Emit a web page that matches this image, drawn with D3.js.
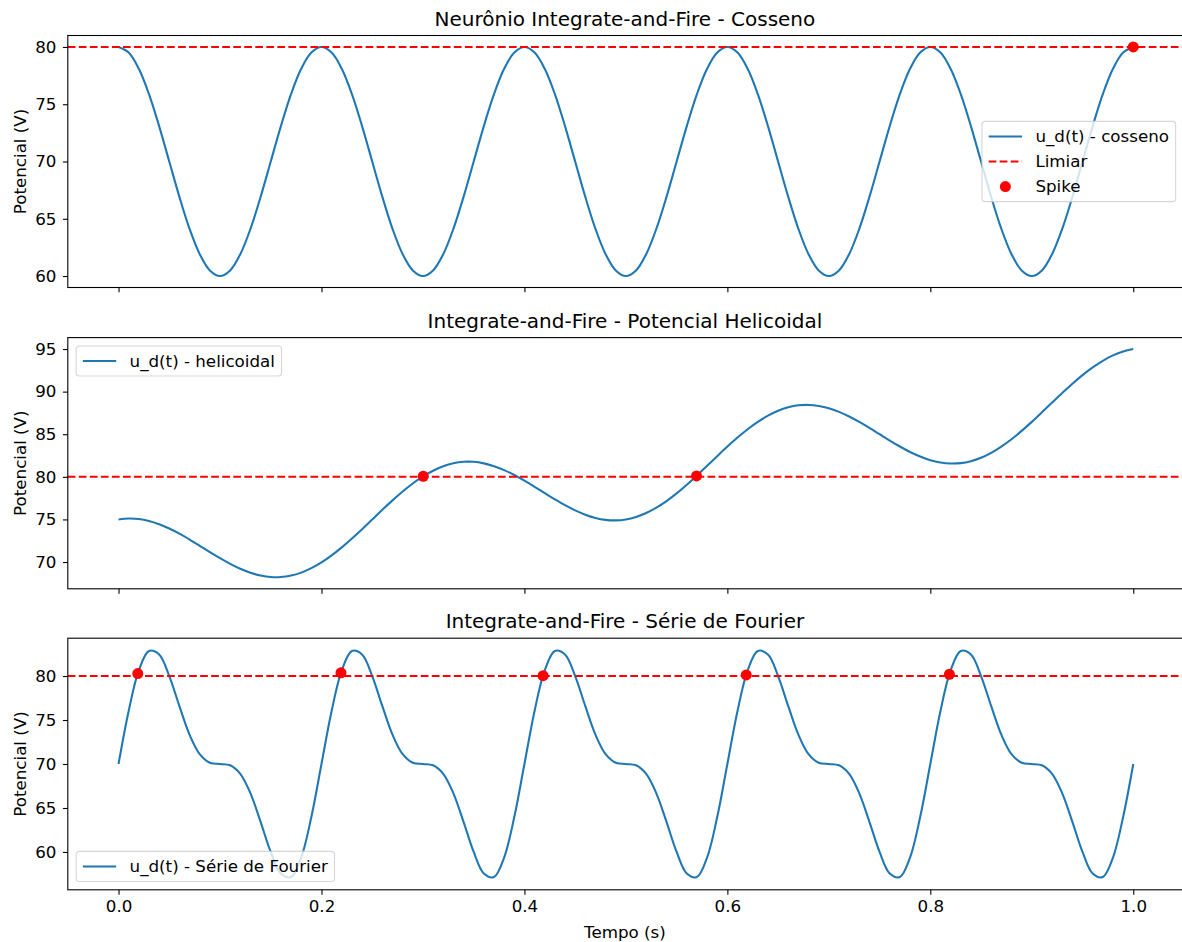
<!DOCTYPE html>
<html>
<head>
<meta charset="utf-8">
<script src="https://cdn.jsdelivr.net/npm/d3@7"></script>
<style>
  body { margin: 0; background: #fff; }
  svg { display: block; font-family: "DejaVu Sans", sans-serif; }
</style>
</head>
<body>
<div id="chart"></div>
<script>
// tempo (s), one sample every 0.01 s
const tempo = [
  0, 0.01, 0.02, 0.03, 0.04, 0.05, 0.06, 0.07, 0.08, 0.09,
  0.1, 0.11, 0.12, 0.13, 0.14, 0.15, 0.16, 0.17, 0.18, 0.19,
  0.2, 0.21, 0.22, 0.23, 0.24, 0.25, 0.26, 0.27, 0.28, 0.29,
  0.3, 0.31, 0.32, 0.33, 0.34, 0.35, 0.36, 0.37, 0.38, 0.39,
  0.4, 0.41, 0.42, 0.43, 0.44, 0.45, 0.46, 0.47, 0.48, 0.49,
  0.5, 0.51, 0.52, 0.53, 0.54, 0.55, 0.56, 0.57, 0.58, 0.59,
  0.6, 0.61, 0.62, 0.63, 0.64, 0.65, 0.66, 0.67, 0.68, 0.69,
  0.7, 0.71, 0.72, 0.73, 0.74, 0.75, 0.76, 0.77, 0.78, 0.79,
  0.8, 0.81, 0.82, 0.83, 0.84, 0.85, 0.86, 0.87, 0.88, 0.89,
  0.9, 0.91, 0.92, 0.93, 0.94, 0.95, 0.96, 0.97, 0.98, 0.99,
  1
];

// potencial - cosseno
const uCosseno = [
  80, 79.51, 78.09, 75.88, 73.09, 70, 66.91, 64.12, 61.91, 60.49,
  60, 60.49, 61.91, 64.12, 66.91, 70, 73.09, 75.88, 78.09, 79.51,
  80, 79.51, 78.09, 75.88, 73.09, 70, 66.91, 64.12, 61.91, 60.49,
  60, 60.49, 61.91, 64.12, 66.91, 70, 73.09, 75.88, 78.09, 79.51,
  80, 79.51, 78.09, 75.88, 73.09, 70, 66.91, 64.12, 61.91, 60.49,
  60, 60.49, 61.91, 64.12, 66.91, 70, 73.09, 75.88, 78.09, 79.51,
  80, 79.51, 78.09, 75.88, 73.09, 70, 66.91, 64.12, 61.91, 60.49,
  60, 60.49, 61.91, 64.12, 66.91, 70, 73.09, 75.88, 78.09, 79.51,
  80, 79.51, 78.09, 75.88, 73.09, 70, 66.91, 64.12, 61.91, 60.49,
  60, 60.49, 61.91, 64.12, 66.91, 70, 73.09, 75.88, 78.09, 79.51,
  80
];

// potencial - helicoidal
const uHelicoidal = [
  75, 75.11, 75.05, 74.82, 74.44, 73.94, 73.33, 72.64, 71.91, 71.17,
  70.45, 69.79, 69.21, 68.75, 68.42, 68.24, 68.24, 68.41, 68.76, 69.28,
  69.95, 70.78, 71.72, 72.76, 73.86, 75, 76.14, 77.24, 78.28, 79.22,
  80.05, 80.72, 81.24, 81.59, 81.76, 81.76, 81.58, 81.25, 80.79, 80.21,
  79.55, 78.83, 78.09, 77.36, 76.67, 76.06, 75.56, 75.18, 74.95, 74.89,
  75, 75.29, 75.75, 76.38, 77.16, 78.06, 79.07, 80.16, 81.29, 82.43,
  83.55, 84.61, 85.59, 86.45, 87.18, 87.76, 88.16, 88.39, 88.44, 88.32,
  88.05, 87.62, 87.08, 86.44, 85.74, 85, 84.26, 83.56, 82.92, 82.38,
  81.95, 81.68, 81.56, 81.61, 81.84, 82.24, 82.82, 83.55, 84.41, 85.39,
  86.45, 87.57, 88.71, 89.84, 90.93, 91.94, 92.84, 93.62, 94.25, 94.71,
  95
];

// potencial - serie de Fourier
const uFourier = [
  70, 76.03, 80.64, 82.85, 82.45, 80, 76.57, 73.33, 71.12, 70.15,
  70, 69.85, 68.88, 66.67, 63.43, 60, 57.55, 57.15, 59.36, 63.97,
  70, 76.03, 80.64, 82.85, 82.45, 80, 76.57, 73.33, 71.12, 70.15,
  70, 69.85, 68.88, 66.67, 63.43, 60, 57.55, 57.15, 59.36, 63.97,
  70, 76.03, 80.64, 82.85, 82.45, 80, 76.57, 73.33, 71.12, 70.15,
  70, 69.85, 68.88, 66.67, 63.43, 60, 57.55, 57.15, 59.36, 63.97,
  70, 76.03, 80.64, 82.85, 82.45, 80, 76.57, 73.33, 71.12, 70.15,
  70, 69.85, 68.88, 66.67, 63.43, 60, 57.55, 57.15, 59.36, 63.97,
  70, 76.03, 80.64, 82.85, 82.45, 80, 76.57, 73.33, 71.12, 70.15,
  70, 69.85, 68.88, 66.67, 63.43, 60, 57.55, 57.15, 59.36, 63.97,
  70
];

// spikes (tempo, potencial)
const spikeCosT = [1.0];
const spikeCosU = [80];
const spikeHelT = [0.3003, 0.5696];
const spikeHelU = [80.07, 80.11];
const spikeFouT = [0.019, 0.2192, 0.4184, 0.6186, 0.8188];
const spikeFouU = [80.28, 80.36, 80.04, 80.12, 80.2];

const limiar = 80;

const titulos = [
  "Neurônio Integrate-and-Fire - Cosseno",
  "Integrate-and-Fire - Potencial Helicoidal",
  "Integrate-and-Fire - Série de Fourier"
];
const rotulos = ["u_d(t) - cosseno", "u_d(t) - helicoidal", "u_d(t) - Série de Fourier"];

const xTicks = [0.0, 0.2, 0.4, 0.6, 0.8, 1.0];
const yTicksCos = [60, 65, 70, 75, 80];
const yTicksHel = [70, 75, 80, 85, 90, 95];
const yTicksFou = [60, 65, 70, 75, 80];

/////////////////////////////////////////////////////
const width = 1182, height = 942;
const plotLeft = 67.8, plotRight = 1184;
const blue = "#1f77b4", red = "#ff0000";
const fs = 16.7;      // text size
const titleFs = 20;
const lw = 2.08;

const panels = [
  {title: titulos[0], values: uCosseno, label: rotulos[0], sT: spikeCosT, sU: spikeCosU,
   yDomain: [59, 81], yTicks: yTicksCos, top: 35.5, bottom: 287.5, legend: "center right", full: true},
  {title: titulos[1], values: uHelicoidal, label: rotulos[1], sT: spikeHelT, sU: spikeHelU,
   yDomain: [66.86, 96.34], yTicks: yTicksHel, top: 337.6, bottom: 588.8, legend: "upper left", full: false},
  {title: titulos[2], values: uFourier, label: rotulos[2], sT: spikeFouT, sU: spikeFouU,
   yDomain: [55.7, 84.3], yTicks: yTicksFou, top: 638.2, bottom: 889.8, legend: "lower left", full: false}
];

const svg = d3.select("#chart")
  .append("svg")
    .attr("width", width)
    .attr("height", height);

const x = d3.scaleLinear()
  .domain([-0.05, 1.05])
  .range([plotLeft, plotRight]);

panels.forEach(function (p, idx) {
  const g = svg.append("g");
  const y = d3.scaleLinear().domain(p.yDomain).range([p.bottom, p.top]);

  // curve
  const line = d3.line()
    .x((d, i) => x(tempo[i]))
    .y(d => y(d))
    .curve(d3.curveCatmullRom);
  g.append("path")
    .datum(p.values)
    .attr("d", line)
    .attr("fill", "none")
    .attr("stroke", blue)
    .attr("stroke-width", lw);

  // threshold
  g.append("line")
    .attr("x1", plotLeft).attr("x2", plotRight)
    .attr("y1", y(limiar)).attr("y2", y(limiar))
    .attr("stroke", red)
    .attr("stroke-width", lw)
    .attr("stroke-dasharray", "7.7,3.33");

  // spikes
  g.selectAll("circle.spike")
    .data(p.sT)
    .enter()
    .append("circle")
      .attr("class", "spike")
      .attr("cx", d => x(d))
      .attr("cy", (d, i) => y(p.sU[i]))
      .attr("r", 5.5)
      .attr("fill", red);

  // y axis
  const yAxis = g.append("g")
    .attr("transform", `translate(${plotLeft},0)`)
    .call(d3.axisLeft(y).tickValues(p.yTicks).tickSize(4.86).tickPadding(6.5));
  yAxis.select(".domain").remove();
  yAxis.selectAll("line").attr("stroke-width", 1.1);
  yAxis.selectAll("text").attr("font-size", fs).attr("font-family", "DejaVu Sans").attr("fill", "#000");

  // x axis
  const last = idx === panels.length - 1;
  const xAxis = g.append("g")
    .attr("transform", `translate(0,${p.bottom})`)
    .call(d3.axisBottom(x).tickValues(xTicks).tickSize(4.86).tickPadding(5)
      .tickFormat(last ? d3.format(".1f") : () => ""));
  xAxis.select(".domain").remove();
  xAxis.selectAll("line").attr("stroke-width", 1.1);
  xAxis.selectAll("text").attr("font-size", fs).attr("font-family", "DejaVu Sans").attr("fill", "#000");

  // frame
  g.append("rect")
    .attr("x", plotLeft).attr("y", p.top)
    .attr("width", plotRight - plotLeft).attr("height", p.bottom - p.top)
    .attr("fill", "none")
    .attr("stroke", "#000")
    .attr("stroke-width", 1.1);

  // title
  g.append("text")
    .attr("x", (plotLeft + plotRight) / 2 - 1)
    .attr("y", p.top - 9.8)
    .attr("text-anchor", "middle")
    .attr("font-size", titleFs)
    .text(p.title);

  // y label
  g.append("text")
    .attr("transform", `translate(25.5,${(p.top + p.bottom) / 2}) rotate(-90)`)
    .attr("text-anchor", "middle")
    .attr("font-size", fs)
    .text("Potencial (V)");

  // legend
  const entries = [{type: "line", label: p.label}];
  if (p.full) {
    entries.push({type: "dash", label: "Limiar"});
    entries.push({type: "dot", label: "Spike"});
  }
  legend(g, entries, p);
});

// x label
svg.append("text")
  .attr("x", (plotLeft + plotRight) / 2 - 1)
  .attr("y", 937.5)
  .attr("text-anchor", "middle")
  .attr("font-size", fs)
  .text("Tempo (s)");

// legend box like matplotlib
function legend(g, entries, p) {
  const pad = 0.4 * fs, handle = 2 * fs, textPad = 0.8 * fs, rowGap = 0.5 * fs, axPad = 0.5 * fs;
  const lg = g.append("g");
  const box = lg.append("rect");
  const texts = lg.selectAll("text.lab")
    .data(entries)
    .enter()
    .append("text")
      .attr("class", "lab")
      .attr("font-size", fs)
      .text(d => d.label);
  let tw = 0;
  texts.each(function () { tw = Math.max(tw, this.getComputedTextLength()); });
  const bw = pad + handle + textPad + tw + pad;
  const bh = 2 * pad + entries.length * fs + (entries.length - 1) * rowGap;

  let bx, by;
  if (p.legend === "center right") {
    bx = plotRight - axPad - bw;
    by = (p.top + p.bottom) / 2 - bh / 2;
  } else if (p.legend === "upper left") {
    bx = plotLeft + axPad;
    by = p.top + axPad;
  } else {
    bx = plotLeft + axPad;
    by = p.bottom - axPad - bh;
  }
  box.attr("x", bx).attr("y", by)
    .attr("width", bw).attr("height", bh)
    .attr("rx", 3.3)
    .attr("fill", "#fff").attr("fill-opacity", 0.8)
    .attr("stroke", "#cccccc").attr("stroke-opacity", 0.8)
    .attr("stroke-width", 1.1);

  const rowY = i => by + pad + fs / 2 + i * (fs + rowGap);
  const hx = bx + pad;
  texts
    .attr("x", hx + handle + textPad)
    .attr("y", (d, i) => rowY(i))
    .attr("dy", "0.35em");

  entries.forEach(function (e, i) {
    if (e.type === "dot") {
      lg.append("circle")
        .attr("cx", hx + handle / 2).attr("cy", rowY(i))
        .attr("r", 5.5).attr("fill", red);
    } else {
      lg.append("line")
        .attr("x1", hx).attr("x2", hx + handle)
        .attr("y1", rowY(i)).attr("y2", rowY(i))
        .attr("stroke", e.type === "dash" ? red : blue)
        .attr("stroke-width", lw)
        .attr("stroke-dasharray", e.type === "dash" ? "7.7,3.33" : null);
    }
  });
}
</script>
</body>
</html>
